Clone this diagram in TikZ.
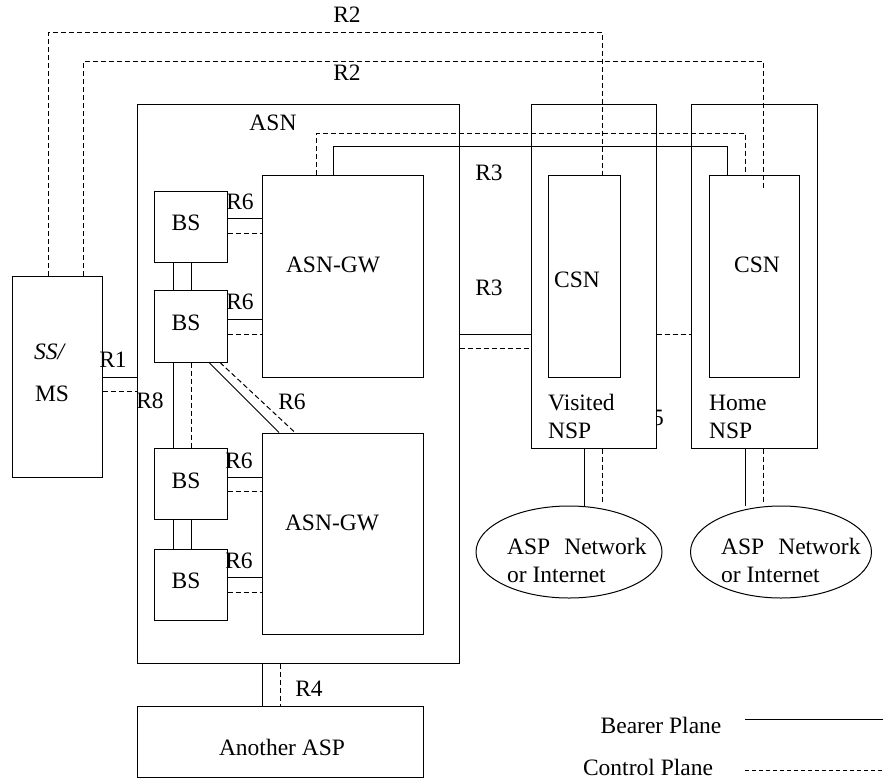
\documentclass[tikz,border=0pt]{standalone}
\usepackage{fontspec}
\setmainfont{Liberation Serif}
\usetikzlibrary{shapes.geometric}
\begin{document}
\begin{tikzpicture}[x=1pt,y=-1pt,
  box/.style={draw, line width=1pt, inner sep=0pt, fill=white},
  bear/.style={line width=1pt},
  ctrl/.style={line width=1pt, dash pattern=on 5pt off 3pt},
  lbl/.style={font=\fontsize{23.5}{27}\selectfont, inner sep=0pt}]
\useasboundingbox (0,0) rectangle (883,780);

% label partly hidden behind Visited NSP
\node[lbl, anchor=base east] (r5) at (664,425) {R5};

% boxes
\node[box, minimum width=90pt, minimum height=201pt] (ssms) at (57,376.5) {};
\node[box, minimum width=322pt, minimum height=559pt] (asn) at (298,383.5) {};
\node[box, minimum width=73pt, minimum height=71pt] (bs1) at (190.5,226.5) {};
\node[box, minimum width=73pt, minimum height=72pt] (bs2) at (190.5,326) {};
\node[box, minimum width=73pt, minimum height=71pt] (bs3) at (190.5,483.5) {};
\node[box, minimum width=73pt, minimum height=71pt] (bs4) at (190.5,584.5) {};
\node[box, minimum width=161pt, minimum height=202pt] (gw1) at (342.5,276) {};
\node[box, minimum width=161pt, minimum height=201pt] (gw2) at (342.5,533.5) {};
\node[box, minimum width=125pt, minimum height=344pt] (vnsp) at (593.5,276) {};
\node[box, minimum width=72pt, minimum height=202pt] (vcsn) at (584,276) {};
\node[box, minimum width=126pt, minimum height=344pt] (hnsp) at (754,276) {};
\node[box, minimum width=90pt, minimum height=202pt] (hcsn) at (754,276) {};
\node[box, minimum width=286pt, minimum height=71pt] (another) at (280,741.5) {};
\node[box, ellipse, minimum width=186pt, minimum height=92pt] (vasp) at (569,552) {};
\node[box, ellipse, minimum width=181pt, minimum height=92pt] (hasp) at (781,552) {};

% texts
\node[lbl] (tasn) at (273,123) {ASN};
\node[lbl] (tgw1) at (333,265) {ASN-GW};
\node[lbl] (tgw2) at (332,523) {ASN-GW};
\node[lbl] (tbs1) at (186,223) {BS};
\node[lbl] (tbs2) at (186,323) {BS};
\node[lbl] (tbs3) at (186,481) {BS};
\node[lbl] (tbs4) at (186,581) {BS};
\node[lbl] (tss) at (50,352) {\textit{SS/}};
\node[lbl] (tms) at (52,394) {MS};
\node[lbl] (tvcsn) at (577,280) {CSN};
\node[lbl] (thcsn) at (757,265) {CSN};
\node[lbl, anchor=base west] (tvis) at (548,410) {Visited};
\node[lbl, anchor=base west] (tvnsp) at (548,438) {NSP};
\node[lbl, anchor=base west] (thome) at (709,410) {Home};
\node[lbl, anchor=base west] (thnsp) at (709,438) {NSP};
\node[lbl, anchor=base west] (tva1) at (507,554) {ASP\hspace{14pt}Network};
\node[lbl, anchor=base west] (tva2) at (507,582) {or Internet};
\node[lbl, anchor=base west] (tha1) at (721,554) {ASP\hspace{14pt}Network};
\node[lbl, anchor=base west] (tha2) at (721,582) {or Internet};
\node[lbl] (tanother) at (282,747) {Another ASP};

\node[lbl] (lr2a) at (347,15) {R2};
\node[lbl] (lr2b) at (347,73) {R2};
\node[lbl] (lr3a) at (489,173) {R3};
\node[lbl] (lr3b) at (489,288) {R3};
\node[lbl] (lr1) at (113,360) {R1};
\node[lbl] (lr8) at (150,401) {R8};
\node[lbl] (lr6a) at (240,202) {R6};
\node[lbl] (lr6b) at (240,302) {R6};
\node[lbl] (lr6c) at (292,402) {R6};
\node[lbl] (lr6d) at (239,461) {R6};
\node[lbl] (lr6e) at (239,561) {R6};
\node[lbl] (lr4) at (309,689) {R4};

% R2 connectors
\coordinate (r2end) at (763,188);
\draw[ctrl] (ssms.north -| 48,0) -- (48,32) -- (602,32) -- (vcsn.north -| 602,0);
\draw[ctrl] (ssms.north -| 83,0) -- (83,61) -- (763,61) -- (r2end);

% R3 connectors (upper)
\draw[ctrl] (gw1.north -| 316,0) -- (316,133) -- (745,133) -- (hcsn.north -| 745,0);
\draw[bear] (gw1.north -| 333,0) -- (333,146) -- (727,146) -- (hcsn.north -| 727,0);

% R3 lower, R5
\draw[bear] (asn.east |- 0,334) -- (vnsp.west |- 0,334);
\draw[ctrl] (asn.east |- 0,348) -- (vnsp.west |- 0,348);
\draw[ctrl] (vnsp.east |- 0,334) -- (hnsp.west |- 0,334);

% R1 / R8
\draw[bear] (ssms.east |- 0,377) -- (asn.west |- 0,377);
\draw[ctrl] (ssms.east |- 0,391) -- (asn.west |- 0,391);

% BS interconnections
\draw[bear] (bs1.south -| 173,0) -- (bs2.north -| 173,0);
\draw[bear] (bs1.south -| 191,0) -- (bs2.north -| 191,0);
\draw[bear] (bs2.south -| 173,0) -- (bs3.north -| 173,0);
\draw[ctrl] (bs2.south -| 191,0) -- (bs3.north -| 191,0);
\draw[bear] (bs3.south -| 173,0) -- (bs4.north -| 173,0);
\draw[bear] (bs3.south -| 191,0) -- (bs4.north -| 191,0);

% R6
\draw[bear] (bs1.east |- 0,218) -- (gw1.west |- 0,218);
\draw[ctrl] (bs1.east |- 0,233) -- (gw1.west |- 0,233);
\draw[bear] (bs2.east |- 0,319) -- (gw1.west |- 0,319);
\draw[ctrl] (bs2.east |- 0,334) -- (gw1.west |- 0,334);
\draw[bear] (bs3.east |- 0,477) -- (gw2.west |- 0,477);
\draw[ctrl] (bs3.east |- 0,491) -- (gw2.west |- 0,491);
\draw[bear] (bs4.east |- 0,577) -- (gw2.west |- 0,577);
\draw[ctrl] (bs4.east |- 0,592) -- (gw2.west |- 0,592);
\draw[bear] (bs2.south -| 209,0) -- (gw2.north -| 279,0);
\draw[ctrl] (bs2.south -| 220,0) -- (gw2.north -| 295,0);

% R4
\draw[bear] (asn.south -| 262,0) -- (another.north -| 262,0);
\draw[ctrl] (asn.south -| 280,0) -- (another.north -| 280,0);

% NSP to ASP networks
\draw[bear] (vnsp.south -| 584,0) -- (vasp.north -| 584,0);
\draw[ctrl] (vnsp.south -| 602,0) -- (602,503);
\draw[bear] (hnsp.south -| 745,0) -- (hasp.north -| 745,0);
\draw[ctrl] (hnsp.south -| 763,0) -- (763,503);

% legend
\node[lbl] (lgb) at (661,725) {Bearer Plane};
\node[lbl] (lgc) at (648,767) {Control Plane};
\coordinate (lb1) at (745,719);
\coordinate (lb2) at (883,719);
\coordinate (lc1) at (745,770);
\coordinate (lc2) at (883,770);
\draw[bear] (lb1) -- (lb2);
\draw[line width=0.8pt, dash pattern=on 4pt off 3pt] (lc1) -- (lc2);
\end{tikzpicture}
\end{document}
